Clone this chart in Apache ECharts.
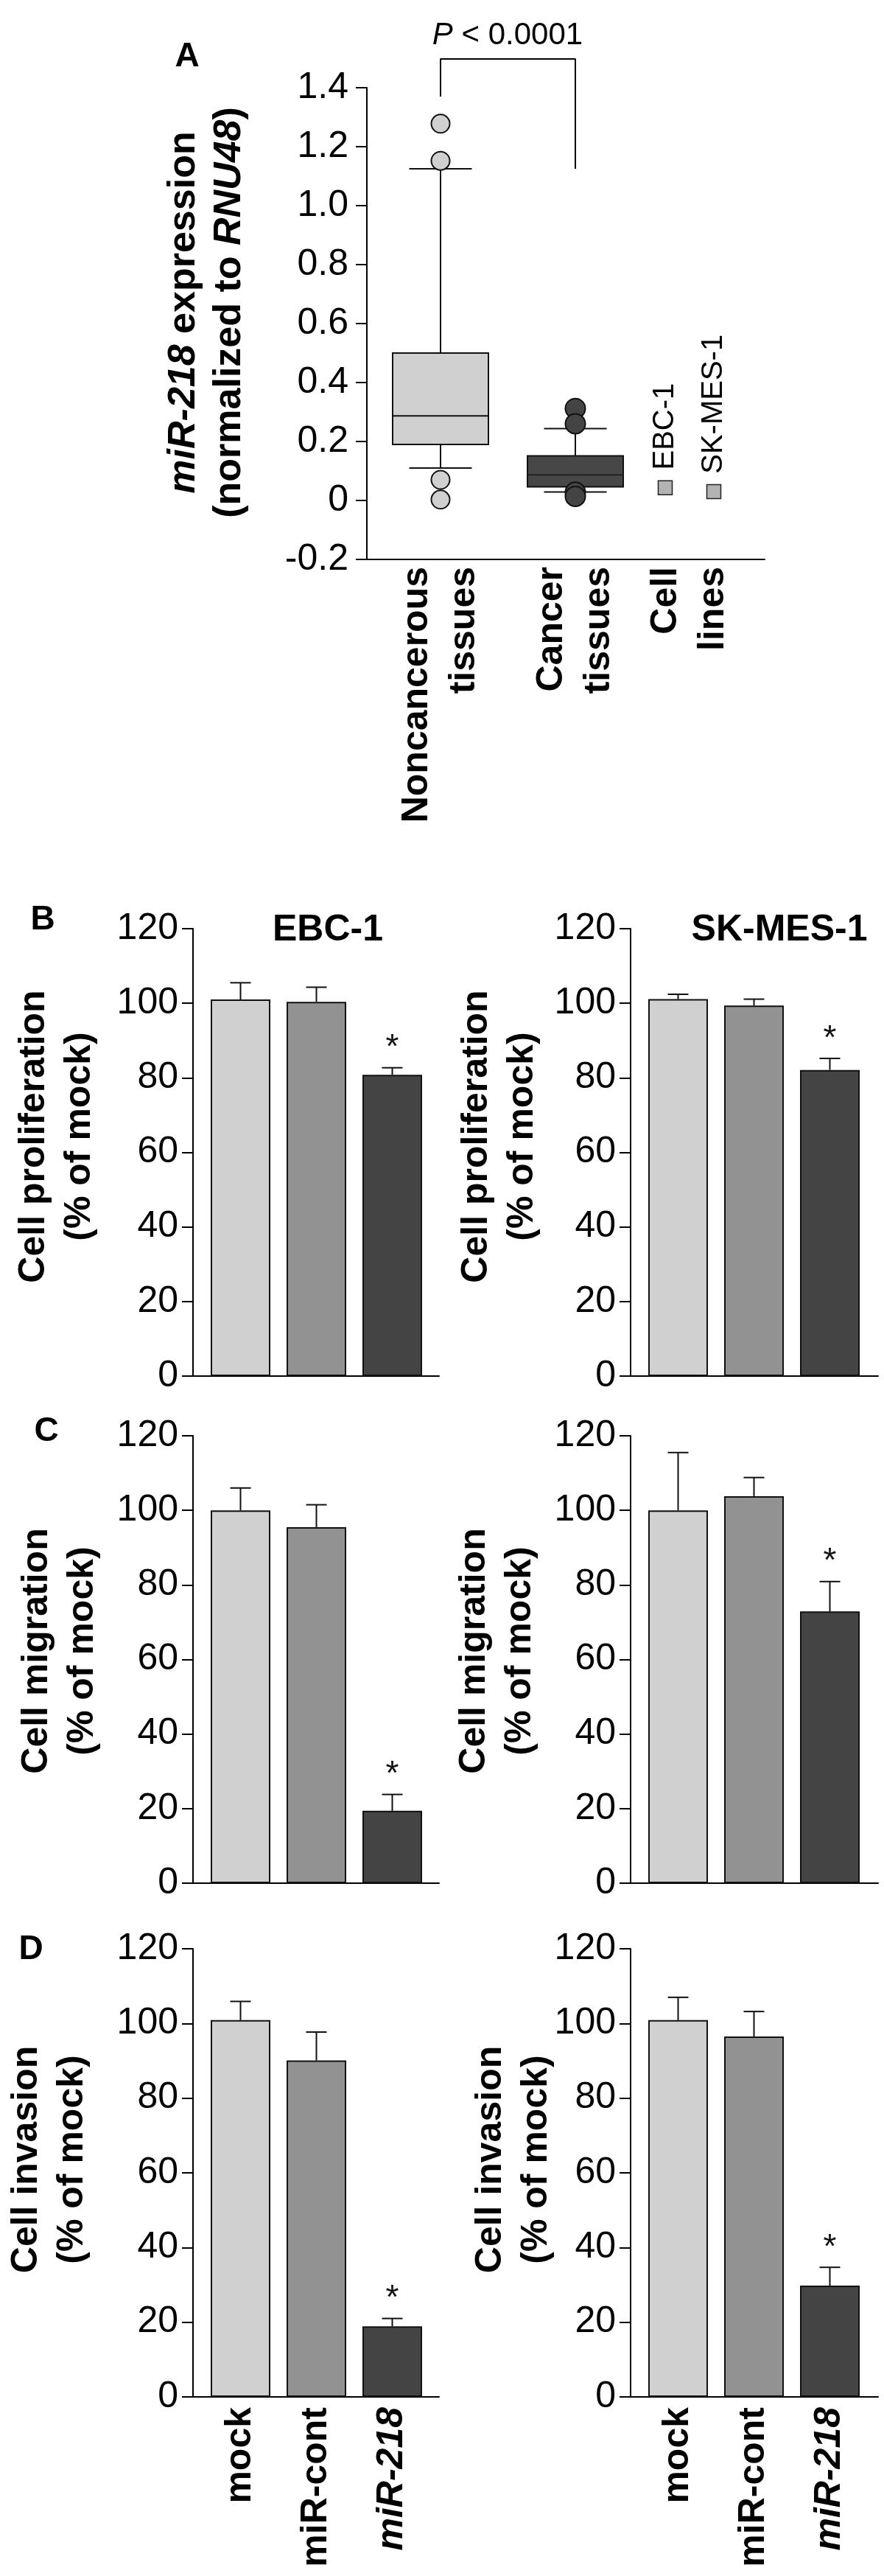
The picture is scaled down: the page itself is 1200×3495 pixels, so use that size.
<!DOCTYPE html>
<html><head><meta charset="utf-8">
<script src="https://cdn.jsdelivr.net/npm/echarts@6/dist/echarts.min.js"></script>
<style>html,body{margin:0;padding:0;background:#fff}#c{width:1200px;height:3495px}</style>
</head><body><div id="c"></div>
<script>
const FONT = '"Liberation Sans", Arial, Helvetica, sans-serif';

// ---------- Panel A data ----------
const tissueCats = ['Noncancerous\ntissues', 'Cancer\ntissues'];
const cellCats = ['Cell\nlines'];
// [lower whisker, Q1, median, Q3, upper whisker]
const boxNoncancer = [0.11, 0.19, 0.287, 0.50, 1.125];
const boxCancer = [0.029, 0.046, 0.087, 0.151, 0.244];
const outNoncancer = [1.278, 1.152, 0.07, 0.003];
const outCancer = [0.312, 0.26, 0.028, 0.014];
const cellLineNames = ['EBC-1', 'SK-MES-1'];
const cellLineValues = [0.043, 0.030];
const yMinA = -0.2, yMaxA = 1.4, yStepA = 0.2;
const bracketLevels = [1.37, 1.4975, 1.125];
const pLabel = ['P', ' < 0.0001'];

// ---------- Panels B-D data ----------
const groups = ['mock', 'miR-cont', 'miR-218'];
const profEBC = [101.0, 100.4, 80.8], profEBCErr = [4.5, 3.9, 1.9];
const profSK  = [101.1, 99.4, 82.1],  profSKErr  = [1.3, 1.7, 3.1];
const migEBC  = [100.0, 95.5, 19.4],  migEBCErr  = [6.0, 6.0, 4.4];
const migSK   = [100.0, 103.8, 72.9], migSKErr   = [15.5, 5.0, 8.0];
const invEBC  = [100.9, 90.1, 18.9],  invEBCErr  = [5.0, 7.6, 2.1];
const invSK   = [100.9, 96.5, 29.8],  invSKErr   = [6.1, 6.7, 4.9];
const sigFlags = [0, 0, 1];
const yMinB = 0, yMaxB = 120, yStepB = 20;
const cellTitles = ['EBC-1', 'SK-MES-1'];
const rowTitles = ['Cell proliferation\n(% of mock)', 'Cell migration\n(% of mock)', 'Cell invasion\n(% of mock)'];
const panelLetters = ['A', 'B', 'C', 'D'];

// ---------- styles / layout ----------
const boxColors = ['#d0d0d0', '#474747'];
const outColors = ['#d0d0d0', '#444444'];
const barColors = ['#d0d0d0', '#929292', '#444444'];
const EDGE = '#111';

const grid = [], xAxis = [], yAxis = [], series = [], graphic = [];
function addGrid(g) { grid.push(Object.assign({ outerBoundsMode: 'none', containLabel: false }, g)); return grid.length - 1; }

function frameAxes(gi, min, max, step, tickLen, margin, fmt) {
  xAxis.push({ gridIndex: gi, type: 'value', min: 0, max: 1,
    axisLine: { show: true, onZero: false, lineStyle: { color: '#000', width: 2 } },
    axisTick: { show: false }, axisLabel: { show: false }, splitLine: { show: false } });
  yAxis.push({ gridIndex: gi, type: 'value', min: min, max: max, interval: step,
    axisLine: { show: true, onZero: false, lineStyle: { color: '#000', width: 2 } },
    axisTick: { show: true, length: tickLen, lineStyle: { color: '#000', width: 2 } },
    axisLabel: { fontSize: 50, fontFamily: FONT, color: '#000', margin: margin, formatter: fmt },
    splitLine: { show: false } });
}
function hiddenY(gi, min, max) {
  yAxis.push({ gridIndex: gi, type: 'value', min: min, max: max, show: false });
  return yAxis.length - 1;
}
const catLabel = { rotate: 90, margin: 10, fontSize: 50, fontWeight: 'bold', fontFamily: FONT, color: '#000', lineHeight: 64, interval: 0 };

// ----- Panel A -----
const gAf = addGrid({ left: 498, top: 119, width: 540, height: 640 });
frameAxes(gAf, yMinA, yMaxA, yStepA, 15, 25, v => Math.abs(v) < 1e-9 ? '0' : v.toFixed(1));

const gAb = addGrid({ left: 506.5, top: 119, width: 366, height: 640 });
xAxis.push({ gridIndex: gAb, type: 'category', data: tissueCats, axisLine: { show: false }, axisTick: { show: false }, axisLabel: catLabel, splitLine: { show: false } });
const xAb = xAxis.length - 1; const yAb = hiddenY(gAb, yMinA, yMaxA);

const gAc = addGrid({ left: 869, top: 119, width: 134, height: 640 });
xAxis.push({ gridIndex: gAc, type: 'category', data: cellCats, axisLine: { show: false }, axisTick: { show: false }, axisLabel: catLabel, splitLine: { show: false } });
const xAc = xAxis.length - 1; const yAc = hiddenY(gAc, yMinA, yMaxA);

series.push({
  type: 'custom', xAxisIndex: xAb, yAxisIndex: yAb, clip: false,
  data: [[0].concat(boxNoncancer), [1].concat(boxCancer)],
  renderItem: function (params, api) {
    const i = api.value(0);
    const x = api.coord([i, 0])[0];
    const y = k => api.coord([i, api.value(k)])[1];
    const lo = y(1), q1 = y(2), md = y(3), q3 = y(4), hi = y(5);
    const hw = 65, cw = 42.5;
    const ls = { stroke: EDGE, lineWidth: 2 };
    return { type: 'group', children: [
      { type: 'line', shape: { x1: x, y1: q3, x2: x, y2: hi }, style: ls },
      { type: 'line', shape: { x1: x, y1: q1, x2: x, y2: lo }, style: ls },
      { type: 'line', shape: { x1: x - cw, y1: hi, x2: x + cw, y2: hi }, style: ls },
      { type: 'line', shape: { x1: x - cw, y1: lo, x2: x + cw, y2: lo }, style: ls },
      { type: 'rect', shape: { x: x - hw, y: q3, width: 2 * hw, height: q1 - q3 }, style: { fill: boxColors[i], stroke: EDGE, lineWidth: 2 } },
      { type: 'line', shape: { x1: x - hw, y1: md, x2: x + hw, y2: md }, style: { stroke: i === 0 ? EDGE : '#222', lineWidth: 2 } }
    ] };
  }
});
[outNoncancer, outCancer].forEach((arr, i) => {
  series.push({ type: 'scatter', xAxisIndex: xAb, yAxisIndex: yAb, clip: false,
    data: arr.map(v => [i, v]), symbol: 'circle', symbolSize: i === 0 ? 25 : 27,
    itemStyle: { color: outColors[i], borderColor: EDGE, borderWidth: 2, opacity: 1 } });
});
series.push({ type: 'line', xAxisIndex: xAb, yAxisIndex: yAb, clip: false, symbol: 'none', silent: true,
  data: [[0, bracketLevels[0]], [0, bracketLevels[1]], [1, bracketLevels[1]], [1, bracketLevels[2]]],
  lineStyle: { color: '#000', width: 2 } });
const cellOffsets = [-33, 33];
cellLineNames.forEach((nm, i) => {
  series.push({ type: 'scatter', xAxisIndex: xAc, yAxisIndex: yAc, clip: false,
    data: [[0, cellLineValues[i]]], symbol: 'rect', symbolSize: 19, symbolOffset: [cellOffsets[i], 0],
    itemStyle: { color: '#b3b3b3', borderColor: '#222', borderWidth: 1.5, opacity: 1 },
    label: { show: true, formatter: nm, position: 'top', distance: 14, rotate: 90, align: 'left', verticalAlign: 'middle',
      fontSize: 40, fontFamily: FONT, color: '#000' } });
});

// ----- Panels B-D -----
const rowTop = [1260, 1948, 2644], rowH = [607, 607, 608];
const frameLeft = [262, 856], frameW = [334, 336], barLeft = [275, 869], barW = 309;
const dataRows = [[[profEBC, profEBCErr], [profSK, profSKErr]], [[migEBC, migEBCErr], [migSK, migSKErr]], [[invEBC, invEBCErr], [invSK, invSKErr]]];
const STAR_GAP = 26;
function errRender(params, api) {
  const i = api.value(0), v = api.value(1), e = api.value(2), s = api.value(3);
  const p0 = api.coord([i, v]), p1 = api.coord([i, v + e]);
  const ls = { stroke: EDGE, lineWidth: 2 };
  const ch = [
    { type: 'line', shape: { x1: p0[0], y1: p0[1], x2: p1[0], y2: p1[1] }, style: ls },
    { type: 'line', shape: { x1: p1[0] - 14, y1: p1[1], x2: p1[0] + 14, y2: p1[1] }, style: ls }
  ];
  if (s) ch.push({ type: 'text', x: p1[0], y: p1[1] - STAR_GAP, style: { text: '*', font: '46px ' + FONT, fill: '#111', align: 'center', verticalAlign: 'middle' } });
  return { type: 'group', children: ch };
}
const xRich = {
  n: { fontSize: 50, fontWeight: 'bold', fontStyle: 'normal', fontFamily: FONT, color: '#000' },
  i: { fontSize: 50, fontWeight: 'bold', fontStyle: 'italic', fontFamily: FONT, color: '#000' }
};
dataRows.forEach((row, r) => {
  row.forEach((pair, s) => {
    const gf = addGrid({ left: frameLeft[s], top: rowTop[r], width: frameW[s], height: rowH[r] });
    frameAxes(gf, yMinB, yMaxB, yStepB, 15, 20, v => String(v));
    const gb = addGrid({ left: barLeft[s], top: rowTop[r], width: barW, height: rowH[r] });
    xAxis.push({ gridIndex: gb, type: 'category', data: groups, axisLine: { show: false }, axisTick: { show: false },
      axisLabel: { show: r === 2, rotate: 90, margin: 14, interval: 0, fontSize: 50, fontWeight: 'bold', fontFamily: FONT, color: '#000',
        formatter: v => v === 'miR-218' ? '{i|' + v + '}' : '{n|' + v + '}', rich: xRich },
      splitLine: { show: false } });
    const xi = xAxis.length - 1; const yi = hiddenY(gb, yMinB, yMaxB);
    const vals = pair[0], errs = pair[1];
    series.push({ type: 'bar', xAxisIndex: xi, yAxisIndex: yi, barWidth: 81,
      data: vals.map((v, k) => ({ value: v, itemStyle: { color: barColors[k] } })),
      itemStyle: { borderColor: EDGE, borderWidth: 2 } });
    series.push({ type: 'custom', xAxisIndex: xi, yAxisIndex: yi, clip: false,
      data: vals.map((v, k) => [k, v, errs[k], sigFlags[k]]), renderItem: errRender });
  });
});

// ----- text annotations -----
function txt(x, y, text, font, extra) {
  graphic.push(Object.assign({ type: 'text', x: x, y: y, silent: true,
    style: Object.assign({ text: text, font: font, fill: '#000', align: 'center', verticalAlign: 'middle' }, extra && extra.style || {}) },
    extra && extra.rot ? { rotation: Math.PI / 2 } : {}));
}
const letterPos = [[254, 77], [58, 1248], [63, 1942], [42, 2645]];
panelLetters.forEach((L, i) => txt(letterPos[i][0], letterPos[i][1], L, 'bold 46px ' + FONT));
const titlePos = [[445, 1262], [1058, 1262]];
cellTitles.forEach((t, i) => txt(titlePos[i][0], titlePos[i][1], t, 'bold 50px ' + FONT));
const rowTitlePos = [[[77, 1542], [678, 1542]], [[81, 2240], [675, 2240]], [[67, 2930], [697, 2930]]];
rowTitles.forEach((t, r) => rowTitlePos[r].forEach(p => txt(p[0], p[1], t, 'bold 50px ' + FONT, { rot: true, style: { lineHeight: 62 } })));
const richA = {
  b: { fontSize: 52, fontWeight: 'bold', fontStyle: 'normal', fontFamily: FONT, fill: '#000', lineHeight: 62 },
  bi: { fontSize: 52, fontWeight: 'bold', fontStyle: 'italic', fontFamily: FONT, fill: '#000', lineHeight: 62 }
};
txt(281, 424, '{bi|miR-218}{b| expression}\n{b|(normalized to }{bi|RNU48}{b|)}', 'bold 52px ' + FONT, { rot: true, style: { rich: richA } });
const richP = {
  i: { fontSize: 42, fontStyle: 'italic', fontWeight: 'normal', fontFamily: FONT, fill: '#000' },
  n: { fontSize: 42, fontStyle: 'normal', fontWeight: 'normal', fontFamily: FONT, fill: '#000' }
};
txt(689, 48, '{i|' + pLabel[0] + '}{n|' + pLabel[1] + '}', '42px ' + FONT, { style: { rich: richP } });

const chart = echarts.init(document.getElementById('c'), null, { renderer: 'canvas' });
chart.setOption({ animation: false, backgroundColor: '#fff', grid: grid, xAxis: xAxis, yAxis: yAxis, series: series, graphic: graphic });
</script></body></html>
